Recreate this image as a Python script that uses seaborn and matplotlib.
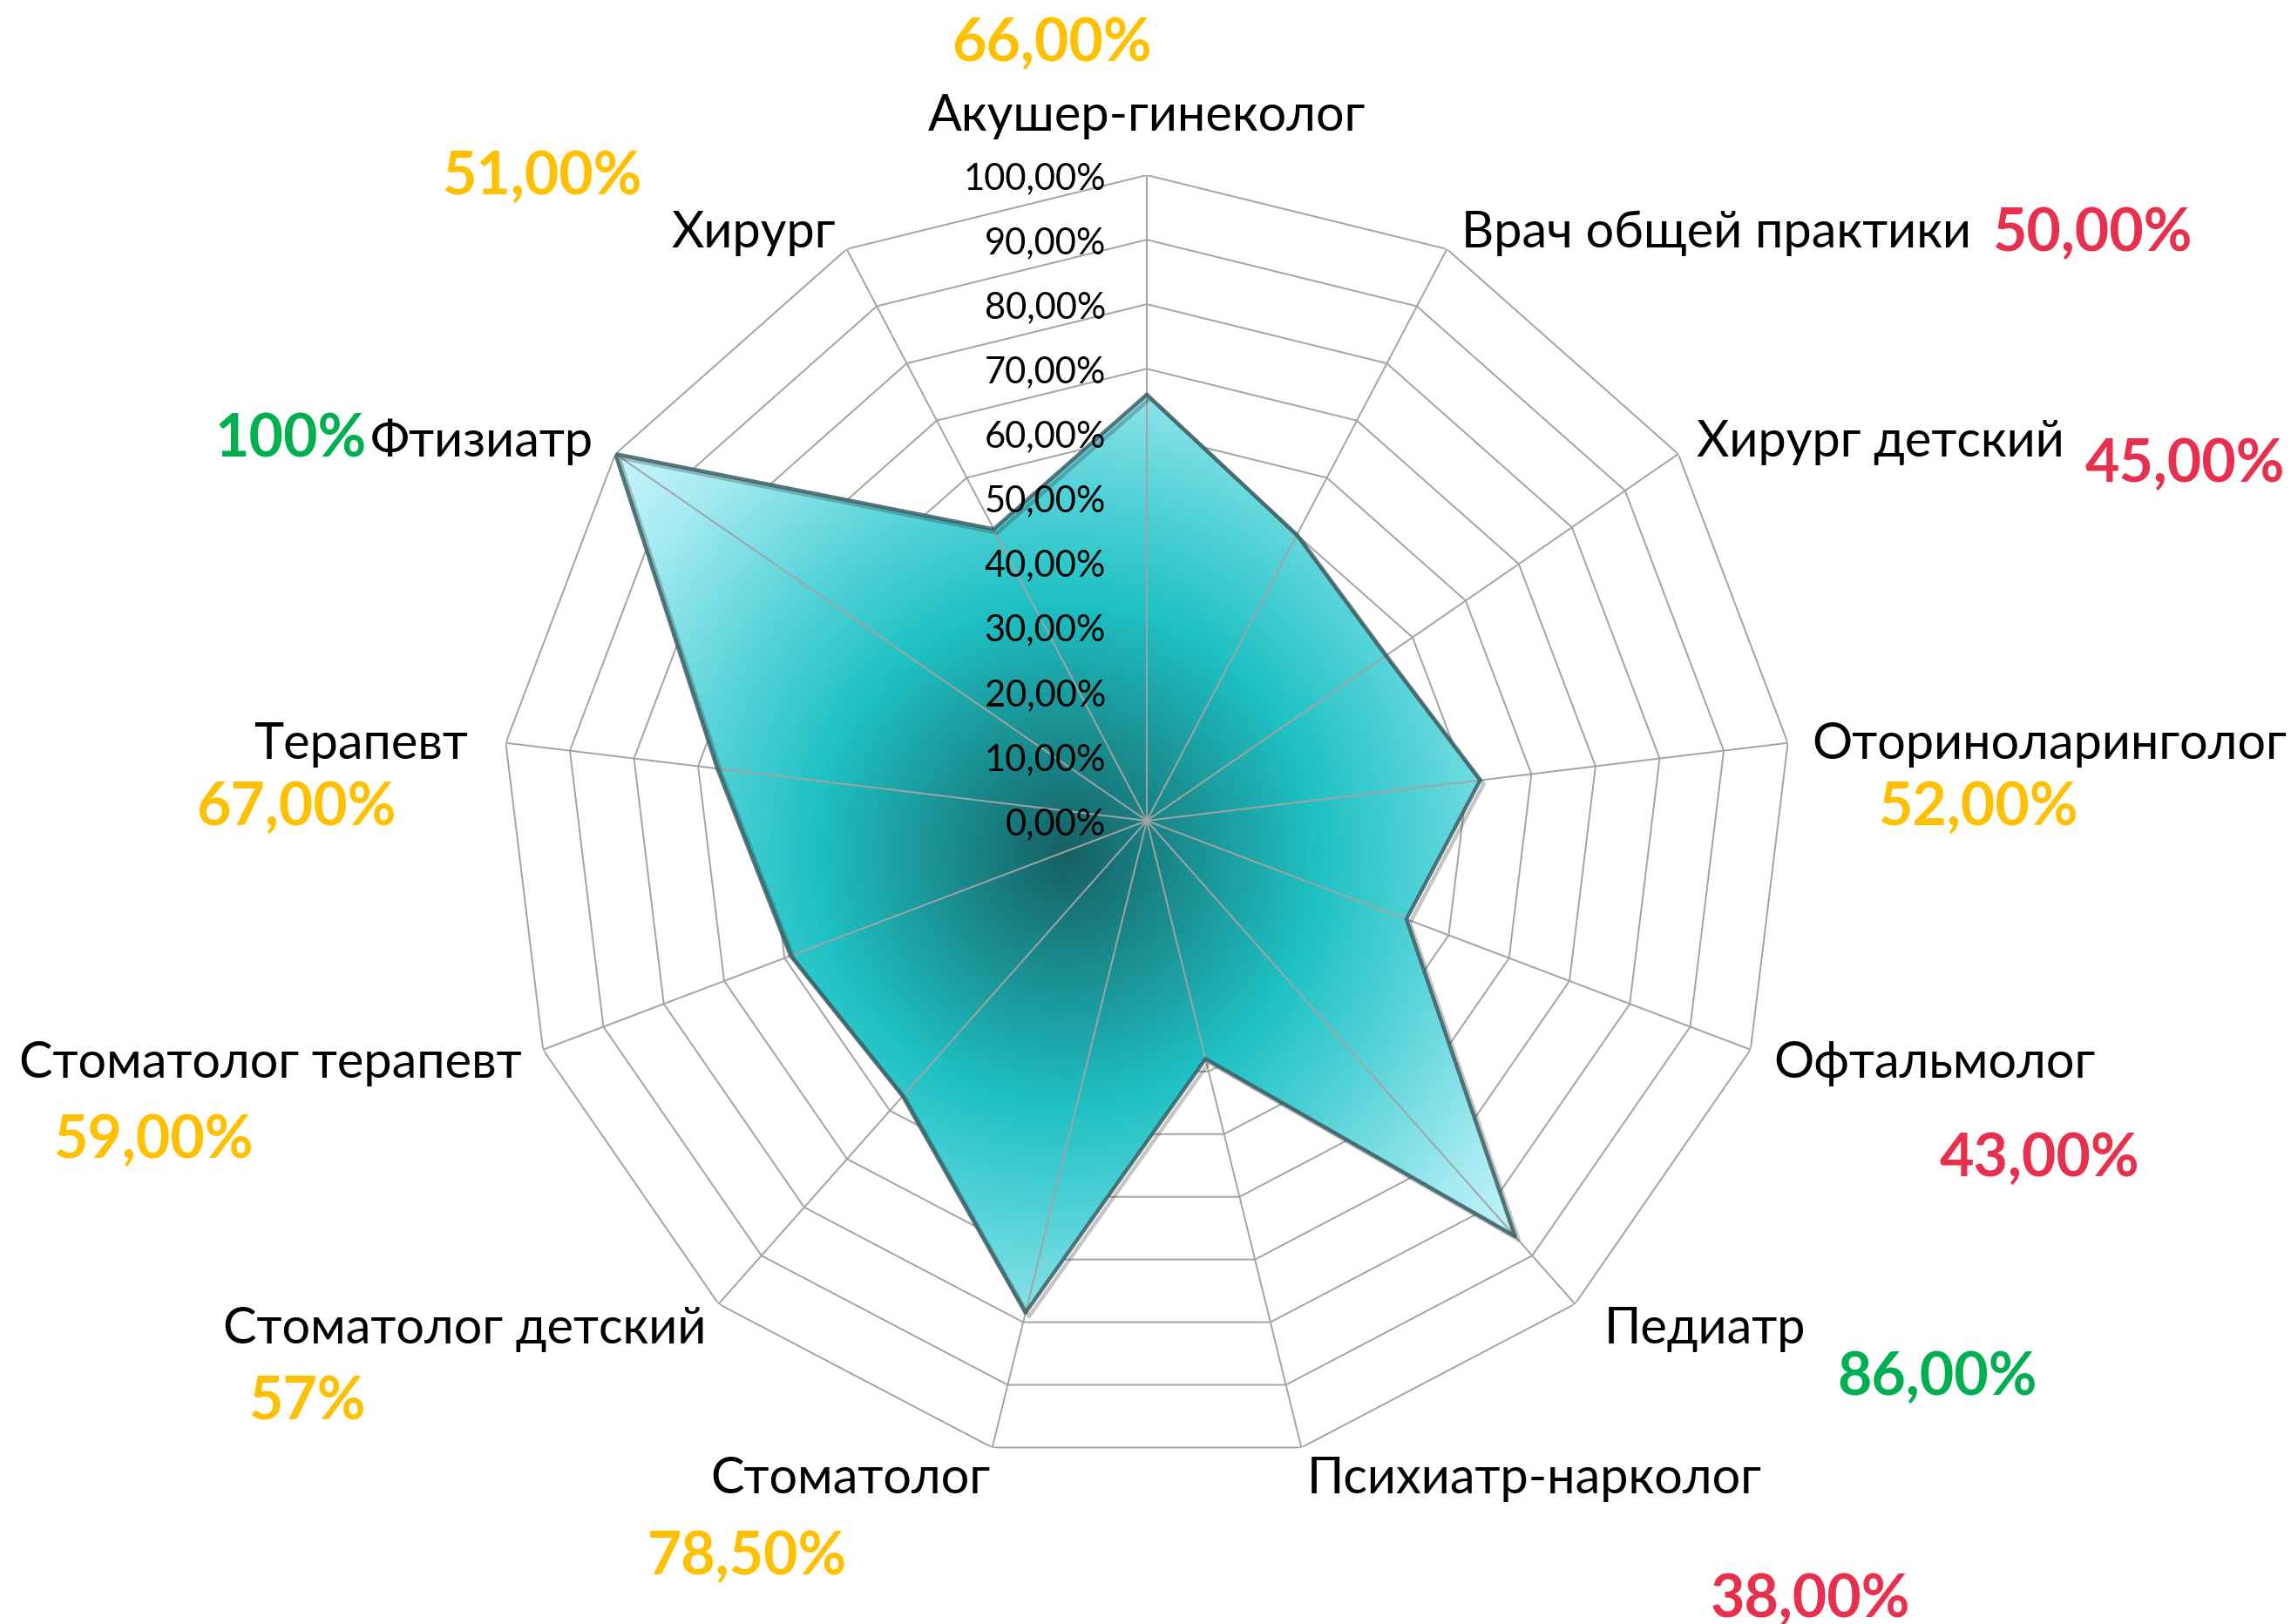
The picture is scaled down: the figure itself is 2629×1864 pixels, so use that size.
import numpy as np
import pandas as pd
import matplotlib
matplotlib.use("Agg")
import matplotlib.pyplot as plt
import seaborn as sns
from matplotlib.colors import LinearSegmentedColormap
from matplotlib.patches import Polygon
from matplotlib.transforms import offset_copy
import matplotlib.patheffects as pe

# ---------------- data ----------------
categories = ["Акушер-гинеколог", "Врач общей практики", "Хирург детский",
              "Оториноларинголог", "Офтальмолог", "Педиатр", "Психиатр-нарколог",
              "Стоматолог", "Стоматолог детский", "Стоматолог терапевт",
              "Терапевт", "Фтизиатр", "Хирург"]
values = [66, 50, 45, 52, 43, 86, 38, 78.5, 57, 59, 67, 100, 51]
value_labels = ["66,00%", "50,00%", "45,00%", "52,00%", "43,00%", "86,00%", "38,00%",
                "78,50%", "57%", "59,00%", "67,00%", "100%", "51,00%"]
value_groups = ["mid", "low", "low", "mid", "low", "high", "low",
                "mid", "mid", "mid", "mid", "high", "mid"]
tick_values = [0, 10, 20, 30, 40, 50, 60, 70, 80, 90, 100]
tick_labels = ["0,00%", "10,00%", "20,00%", "30,00%", "40,00%", "50,00%",
               "60,00%", "70,00%", "80,00%", "90,00%", "100,00%"]

# ---------------- style / layout ----------------
group_colors = {"mid": "#FFC000", "low": "#E6304D", "high": "#00B050"}
W, H = 2629, 1865
cx, cy, R = 1316, 943, 741          # chart centre and radius in pixels (from top)

# label positions (pixel centres, from top-left)
cat_pos = [(1316, 129), (1970, 263), (2158, 503), (2352, 850), (2220, 1216),
           (1957, 1521), (1761, 1693), (976, 1693), (533, 1521), (310, 1216),
           (414, 850), (553, 503), (865, 263)]
val_pos = [(1207, 45), (2401, 263), (2507, 528), (2270, 922), (2341, 1325),
           (2223, 1576), (2077, 1831), (857, 1782), (352, 1605), (176, 1304),
           (340, 922), (334, 500), (622, 198)]

sns.set_theme(style="white")
plt.rcParams["font.family"] = ["Lato", "DejaVu Sans"]

fig = plt.figure(figsize=(W / 100, H / 100), dpi=100)
fig.patch.set_facecolor("white")
rect = [(cx - R) / W, (H - cy - R) / H, 2 * R / W, 2 * R / H]

n = len(categories)
theta = np.linspace(0, 2 * np.pi, n, endpoint=False)
theta_c = np.append(theta, theta[0])
vals_c = np.append(values, values[0])


def setup_polar(a):
    a.set_theta_zero_location("N")
    a.set_theta_direction(-1)
    a.set_ylim(0, 100)
    a.axis("off")


ax_grid = fig.add_axes(rect, projection="polar", zorder=1)
setup_polar(ax_grid)
ax_img = fig.add_axes([0, 0, 1, 1], zorder=2)
ax_img.set_xlim(0, W)
ax_img.set_ylim(H, 0)
ax_img.axis("off")
ax_top = fig.add_axes(rect, projection="polar", zorder=3)
setup_polar(ax_top)

grid_col = "#A3A3A3"
# polygonal rings
for v in tick_values[1:]:
    ax_grid.plot(theta_c, [v] * (n + 1), color=grid_col, lw=1.4, zorder=1)

# filled polygon used as clip path for radial gradient
poly = Polygon(np.column_stack([theta, values]), closed=True,
               transform=ax_grid.transData, facecolor="none", edgecolor="none")

verts = ax_grid.transData.transform(np.column_stack([theta, values]))
vx = verts[:, 0]
vy = H - verts[:, 1]
gx = (vx.min() + vx.max()) / 2
gy = (vy.min() + vy.max()) / 2
grad_r = np.max(np.hypot(vx - gx, vy - gy))

yy, xx = np.mgrid[0:H, 0:W]
dist = np.hypot(xx - gx, yy - gy) / grad_r
cmap = LinearSegmentedColormap.from_list(
    "teal", [(0.0, "#166063"), (0.18, "#1a8a8d"), (0.42, "#1fc1c4"),
             (0.6, "#52d2d7"), (0.85, "#a6ebf2"), (1.0, "#c6f5fb")])
img = ax_img.imshow(np.clip(dist, 0, 1), cmap=cmap, vmin=0, vmax=1,
                    extent=[0, W, H, 0], interpolation="bilinear", zorder=1)
img.set_clip_path(poly)

# spokes on top of fill
for t in theta:
    ax_top.plot([t, t], [0, 100], color=grid_col, lw=1.4, zorder=1)

# outline of the polygon
df = pd.DataFrame({"theta": theta_c, "value": vals_c})
sns.lineplot(data=df, x="theta", y="value", sort=False, estimator=None, ax=ax_top,
             color="#3b5f66", lw=3.2, alpha=0.85, zorder=3,
             path_effects=[pe.SimpleLineShadow(offset=(3, -3), shadow_color="k", alpha=0.25),
                           pe.Normal()])
ax_top.set_xlabel("")
ax_top.set_ylabel("")
setup_polar(ax_top)

# radial tick labels
tick_tr = offset_copy(ax_top.transData, fig=fig, x=-47, y=-15, units="dots")
for v, lab in zip(tick_values, tick_labels):
    ax_top.text(0, v, lab, transform=tick_tr, ha="right", va="baseline",
                fontsize=30, color="black", zorder=5)

# category labels
for (x, y), lab in zip(cat_pos, categories):
    fig.text(x / W, 1 - (y + 21) / H, lab, ha="center", va="baseline",
             fontsize=41.5, color="black")

# value labels
for (x, y), lab, g in zip(val_pos, value_labels, value_groups):
    fig.text(x / W, 1 - (y + 25) / H, lab, ha="center", va="baseline",
             fontsize=49, fontweight="bold", color=group_colors[g])

fig.savefig("out.png", dpi=100, facecolor="white")
